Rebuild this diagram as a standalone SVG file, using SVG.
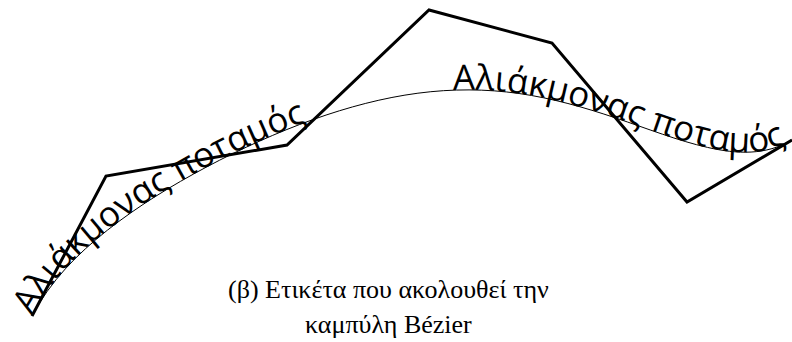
<svg xmlns="http://www.w3.org/2000/svg" xmlns:xlink="http://www.w3.org/1999/xlink" width="792" height="342" viewBox="0 0 792 342">
  <style>
    .poly { fill: none; stroke: #000; stroke-width: 3; stroke-linejoin: miter; }
    .curve { fill: none; stroke: #000; stroke-width: 1; }
    .lbl { font-family: "Open Sans", "Noto Sans", "DejaVu Sans", sans-serif; font-size: 35px; fill: #000; }
    .cap { font-family: "Liberation Serif", "Times New Roman", serif; font-size: 26px; fill: #000; }
  </style>
  <defs>
    <path id="bez" d="M32,316 C50.5,281 77.17,254.06 107.45,230.15 C137.73,206.24 171.65,185.51 206.52,167.01 C241.39,148.51 277.25,132.38 312.76,119.66 C348.27,106.94 383.47,97.74 417.92,93.19 C452.37,88.64 486.09,88.85 519.05,93.51 C552.01,98.17 584.24,107.35 615.73,117.97 C647.22,128.59 677.98,140.71 707.61,147.43 C737.24,154.15 765.75,155.5 792,140"/>
  </defs>
  <rect width="792" height="342" fill="#fff"/>
  <g id="control-polygon">
    <polyline class="poly" points="32,316 106,176 287,145 429,10 552,43 687,202 792,140"/>
  </g>
  <g id="curve">
    <use xlink:href="#bez" href="#bez" class="curve"/>
  </g>
  <g id="label-1">
    <text class="lbl"><textPath href="#bez" xlink:href="#bez" startOffset="0">Αλιάκμονας ποταμός</textPath></text>
  </g>
  <g id="label-2">
    <text class="lbl"><textPath href="#bez" xlink:href="#bez" startOffset="493">Αλιάκμονας ποταμός</textPath></text>
  </g>
  <g id="caption">
    <text class="cap" x="228" y="298">(β) Ετικέτα που ακολουθεί την</text>
    <text class="cap" x="305" y="333">καμπύλη Bézier</text>
  </g>
</svg>
